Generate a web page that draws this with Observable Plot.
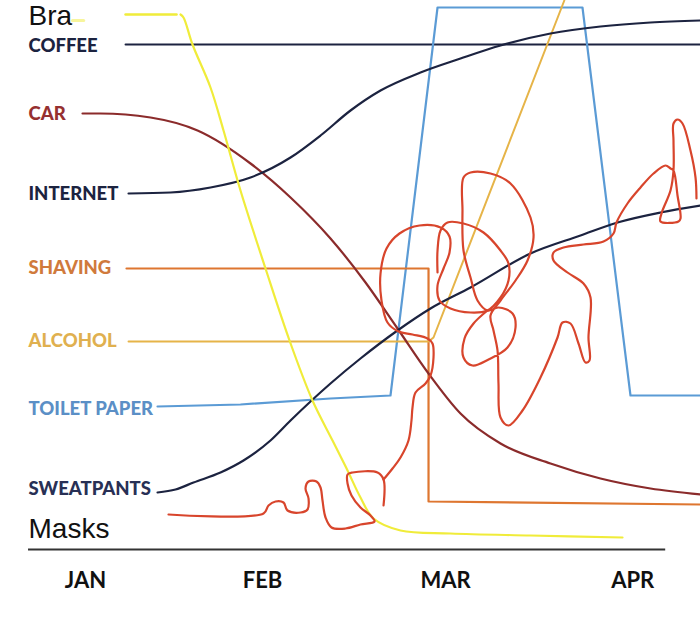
<!DOCTYPE html>
<html><head><meta charset="utf-8">
<script src="https://cdn.jsdelivr.net/npm/d3@7"></script>
<script src="https://cdn.jsdelivr.net/npm/@observablehq/plot@0.6"></script>
<style>body{margin:0;background:#fff;} #chart{width:700px;height:621px;}</style>
</head><body><div id="chart"></div>
<script>
// x = days since 1 Jan, y = interest index (0 at the baseline)
const months = ["JAN", "FEB", "MAR", "APR"];
const monthDays = [0, 29.5, 60, 91.2];

const labelNames = ["Bra", "COFFEE", "CAR", "INTERNET", "SHAVING", "ALCOHOL", "TOILET PAPER", "SWEATPANTS", "Masks"];
const labelVals = [106.4, 100.4, 86.9, 70.8, 56, 41.4, 27.9, 11.8, 3.8];
const labelDay = -9.5;

const coffee = [[6.67,100.8],[102.5,100.8]];
const braTop = [[6.67,106.8],[15.17,106.8]];
const braSmudge = [[-2.17,105.6],[-0.3,105.6]];
const bra = [[15.83,106.8],[16.33,106.2],[17.83,100.8],[20.83,92.2],[23,83.6],[25.83,71.6],[30,56],[34,41.6],[37.83,29.6],[41.17,21.6],[43.67,15.6],[45.83,10.2],[48,6],[52.5,3.6],[60.83,3],[74.17,2.6],[89.5,2.2]];
const car = [[-0.5,87],[2.5,87],[10.83,86.2],[18.67,83.6],[27.5,77],[34.17,70.2],[40.83,62],[46.67,53.2],[52,44],[57.17,35],[62.5,27],[69.17,21],[77.5,17],[85.83,14],[94.17,12],[102.5,10.8]];
const internet = [[7.17,71],[14.17,71.2],[20.83,72.2],[27.5,74.2],[34.17,78.2],[39.17,82.6],[44.17,87.6],[49.17,91.6],[55.83,95.2],[62.5,98],[69.17,100.6],[77.5,103],[85.83,104.4],[94.17,105.2],[102.5,105.6]];
const shaving = [[6.83,56],[57.17,56],[57.17,9.4],[102.5,8.8]];
const alcohol = [[7.17,41.4],[57.17,41.4],[58,42.2],[79.8,109.6]];
const toiletPaper = [[12,28.4],[25.83,28.8],[40.83,30],[50.83,30.6],[58.67,108.2],[82.83,108.2],[90.83,30.6],[102.5,30.6]];
const sweatpants = [[12,11.2],[15,11.8],[18,13.2],[22.5,15.2],[26.33,17.6],[30.83,21.6],[34.17,25.6],[40.83,33],[45.83,38],[52,43.6],[57.5,48],[64.17,52.2],[74.17,59],[82.5,62.6],[88.67,65.2],[95.83,67.2],[102.5,68.6]];

const masks1 = [[13.83,6.8],[29.67,7],[30.5,8.6],[31.67,9.4],[33,9.2],[33.67,7.6],[35.83,7.2],[37,7.8],[37.17,10],[36.67,12],[37.17,13.4],[38.5,13.4],[39.17,12.2],[39.5,9.6],[40,6.2],[41,4.2],[43.33,4],[45.83,4.8],[48.17,5.4],[47.5,6.6],[45.83,8.2],[44.33,10.6],[43.67,13],[43.67,14.8],[44.5,15.2],[48.67,15.2],[49.67,13.8],[49.67,8.6]];
const masks2 = [[49.67,13.8],[51.17,16],[52.5,18.2],[53.83,21.6],[54.33,25.6],[54.5,28.2],[55,31.2],[56.67,33],[57.5,34.6],[58,38.2],[57.83,41],[57,42],[54.5,42.8],[52.17,43.4],[50.33,45.2],[49.33,49.6],[49.17,55],[50.17,60],[52.33,63],[55.67,64.6],[59.17,64.2],[60.67,62.4],[60.67,59.2],[59.67,56],[58.67,52.6],[59,49.6],[60.83,48],[64.17,47.2],[67,47.6],[69.17,50.2],[70.5,53.6],[70.5,57],[69.17,59.6],[66.33,63.2],[63,65],[60.33,65.2],[59.17,63.6],[58.67,59.6],[58.67,55.2]];
const masks3 = [[67,47.6],[64.67,45],[63.17,42],[63,38.2],[64.5,36.6],[67.17,37.8],[70.33,40.2],[71.67,44.2],[71.17,47],[68.83,48.2],[67,47.6],[65.33,49.6],[64.17,54.2],[63,59.6],[62.83,67.6],[63,74.2],[64.17,75.2],[67.5,75],[70.83,73],[74.17,66.2],[74.67,62.2],[73.67,57.6],[71.67,53.6],[69.17,49.6],[67.5,46.6],[68,43.6],[68.67,39.6],[68.83,33],[69.17,26.2],[70.5,24.6],[72.83,27.6],[75.83,34.2],[78.67,42.2],[79.5,45.2],[80.83,45],[82.17,41],[83.33,37.2],[84,37.6],[83.83,42.2],[84.17,50.2],[83,53],[80.33,55.2],[78,57.6],[78,59.2],[79.67,60.2],[83,60.8],[86.33,61.4],[88,63],[88.5,65.2],[90.33,69],[92.5,72.2],[94.67,75],[96.67,76.6],[97.5,76],[98,75.6],[98.67,70.6],[99.17,66],[98.83,65.4],[95.83,65.4],[96,67],[97.5,71.6],[98,75.6],[98,81.6],[98,85],[98.67,85.8],[99.5,85],[100.83,79.6],[101.67,74.2],[101.83,70]];

const baselineSpan = [-9.5, 96.7];

const NAVY = "#1c2340", CAR = "#8b2b2b", ORANGE = "#de7630", GOLD = "#e6b448", BLUE = "#5b9bd5", YELLOW = "#f0ec3a", RED = "#d8452c";
const labelColors = ["#111", "#1c2340", "#963030", "#1c2340", "#d07a3c", "#e0b04f", "#5b8fc6", "#283055", "#111"];
const bigLabel = new Set(["Bra", "Masks"]);
const labelData = labelNames.map((name, i) => ({name, val: labelVals[i], color: labelColors[i]}));

const plot = Plot.plot({
  width: 700,
  height: 621,
  marginTop: 0, marginRight: 0, marginLeft: 0, marginBottom: 72,
  x: {domain: [-14.17, 102.5], axis: null},
  y: {domain: [-0.2, 109.6], axis: null},
  style: {background: "#fff"},
  marks: [
    Plot.ruleY([-0.2], {x1: baselineSpan[0], x2: baselineSpan[1], stroke: "#333", strokeWidth: 2}),
    Plot.axisX(monthDays, {anchor: "bottom", tickSize: 0, tickPadding: 23, tickFormat: d => months[monthDays.indexOf(d)],
      fontSize: 22, fontWeight: 700, fontFamily: "Lato", fill: "#111"}),
    Plot.line(coffee, {stroke: NAVY, strokeWidth: 2}),
    Plot.line(toiletPaper, {stroke: BLUE, strokeWidth: 2.2}),
    Plot.line(shaving, {stroke: ORANGE, strokeWidth: 2.2}),
    Plot.line(alcohol, {stroke: GOLD, strokeWidth: 2}),
    Plot.line(car, {stroke: CAR, strokeWidth: 2.2, curve: "monotone-x"}),
    Plot.line(internet, {stroke: NAVY, strokeWidth: 2.2, curve: "monotone-x"}),
    Plot.line(sweatpants, {stroke: NAVY, strokeWidth: 2.2, curve: "monotone-x"}),
    Plot.line(braTop, {stroke: YELLOW, strokeWidth: 2.5}),
    Plot.line(braSmudge, {stroke: YELLOW, strokeWidth: 3, strokeOpacity: 0.5}),
    Plot.line(bra, {stroke: YELLOW, strokeWidth: 2.2, curve: "catmull-rom"}),
    Plot.line(masks1, {stroke: RED, strokeWidth: 2.2, curve: "catmull-rom"}),
    Plot.line(masks2, {stroke: RED, strokeWidth: 2.2, curve: "catmull-rom"}),
    Plot.line(masks3, {stroke: RED, strokeWidth: 2.2, curve: "catmull-rom"}),
    Plot.text(labelData.filter(d => !bigLabel.has(d.name)), {x: () => labelDay, y: "val", text: "name", fill: "color",
      textAnchor: "start", lineAnchor: "middle", fontSize: 18.5, fontWeight: 900, fontFamily: "Lato"}),
    Plot.text(labelData.filter(d => bigLabel.has(d.name)), {x: () => labelDay, y: "val", text: "name", fill: "color",
      textAnchor: "start", lineAnchor: "middle", fontSize: 28, fontWeight: 400, fontFamily: "Liberation Sans"})
  ]
});
document.getElementById("chart").append(plot);
</script>
</body></html>
